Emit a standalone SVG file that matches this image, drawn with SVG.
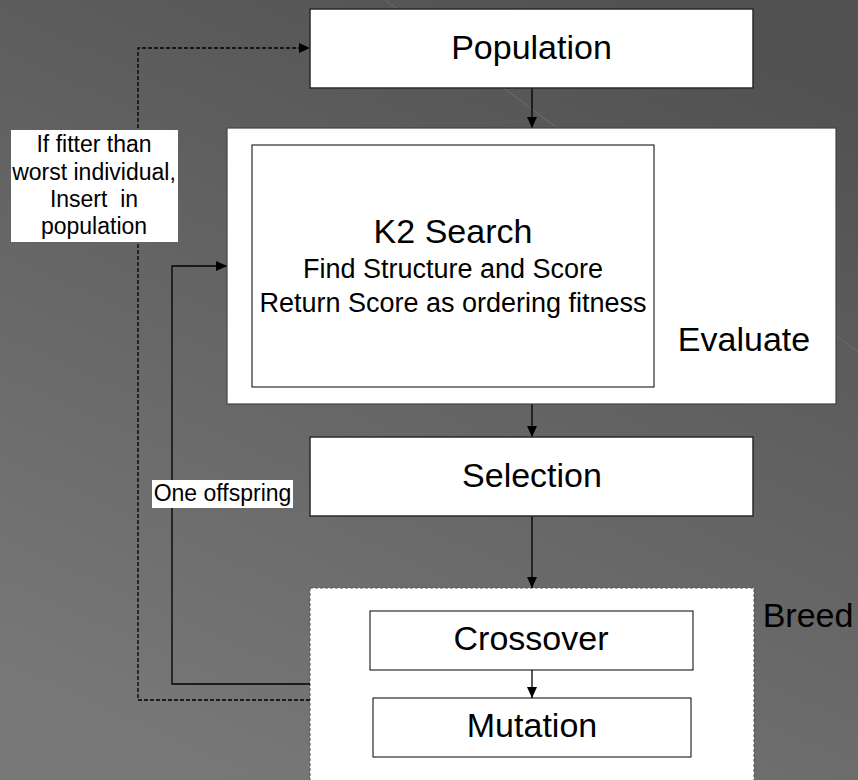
<svg xmlns="http://www.w3.org/2000/svg" width="858" height="780" viewBox="0 0 858 780">
<defs>
<linearGradient id="bg" x1="0.75" y1="0" x2="0.25" y2="1">
<stop offset="0" stop-color="#515151"/>
<stop offset="1" stop-color="#787878"/>
</linearGradient>
<marker id="arr" markerWidth="11" markerHeight="10" refX="11" refY="5" orient="auto" markerUnits="userSpaceOnUse">
<path d="M0,0 L11,5 L0,10 Z" fill="#000"/>
</marker>
</defs>
<style>
text{font-family:"Liberation Sans",Arial,sans-serif;fill:#000}
.big{font-size:34px;text-anchor:middle}
.mid{font-size:27px;text-anchor:middle}
.small{font-size:23px;text-anchor:middle}
.box{fill:#fff;stroke:#2a2a2a;stroke-width:1.5}
.inner{fill:#fff;stroke:#000;stroke-width:1}
.conn{fill:none;stroke:#000;stroke-width:1.3}
.dash{stroke-dasharray:4 2}
.lbl{fill:#fff}
</style>
<rect width="858" height="780" fill="url(#bg)"/>
<line x1="380" y1="-4" x2="862" y2="355" stroke="#7a7a7a" stroke-width="1" opacity="0.6"/>

<g id="breed">
<rect x="310" y="588" width="444" height="200" fill="#fff" stroke="#555" stroke-width="1" stroke-dasharray="3 2"/>
<text x="808" y="627" class="big">Breed</text>
</g>

<g id="connectors">
<line x1="532" y1="88" x2="532" y2="128" class="conn" marker-end="url(#arr)"/>
<line x1="532" y1="404" x2="532" y2="437" class="conn" marker-end="url(#arr)"/>
<line x1="532" y1="516" x2="532" y2="588" class="conn" marker-end="url(#arr)"/>
<line x1="532" y1="670" x2="532" y2="698" class="conn" marker-end="url(#arr)"/>
<polyline points="310,684 172,684 172,266 227,266" class="conn" marker-end="url(#arr)"/>
<polyline points="310,700 138,700 138,48 310,48" class="conn dash" marker-end="url(#arr)"/>
</g>

<g id="population">
<rect x="310" y="9" width="443" height="79" class="box"/>
<text x="531.5" y="59" class="big">Population</text>
</g>

<g id="evaluate">
<rect x="227" y="128" width="609" height="276" fill="#fff" stroke="#444" stroke-width="1.2"/>
<text x="744" y="351" class="big">Evaluate</text>
</g>

<g id="k2search">
<rect x="252" y="145" width="402" height="242" class="inner"/>
<text x="453" y="243" class="big">K2 Search</text>
<text x="453" y="278" class="mid">Find Structure and Score</text>
<text x="453" y="312" class="mid">Return Score as ordering fitness</text>
</g>

<g id="selection">
<rect x="310" y="437" width="443" height="79" class="box"/>
<text x="532" y="487" class="big">Selection</text>
</g>

<g id="crossover">
<rect x="370" y="611" width="323" height="59" class="inner" stroke="#333"/>
<text x="531" y="650" class="big">Crossover</text>
</g>

<g id="mutation">
<rect x="373" y="698" width="318" height="59" class="inner" stroke="#333"/>
<text x="532" y="737" class="big">Mutation</text>
</g>

<g id="label-insert">
<rect x="11" y="130" width="167" height="112" class="lbl"/>
<text x="94" y="152" class="small">If fitter than</text>
<text x="94" y="180" class="small">worst individual,</text>
<text x="94" y="207" class="small" xml:space="preserve">Insert  in</text>
<text x="94" y="234" class="small">population</text>
</g>

<g id="label-offspring">
<rect x="152" y="480" width="141" height="28" class="lbl"/>
<text x="222.5" y="501" class="small">One offspring</text>
</g>
</svg>
